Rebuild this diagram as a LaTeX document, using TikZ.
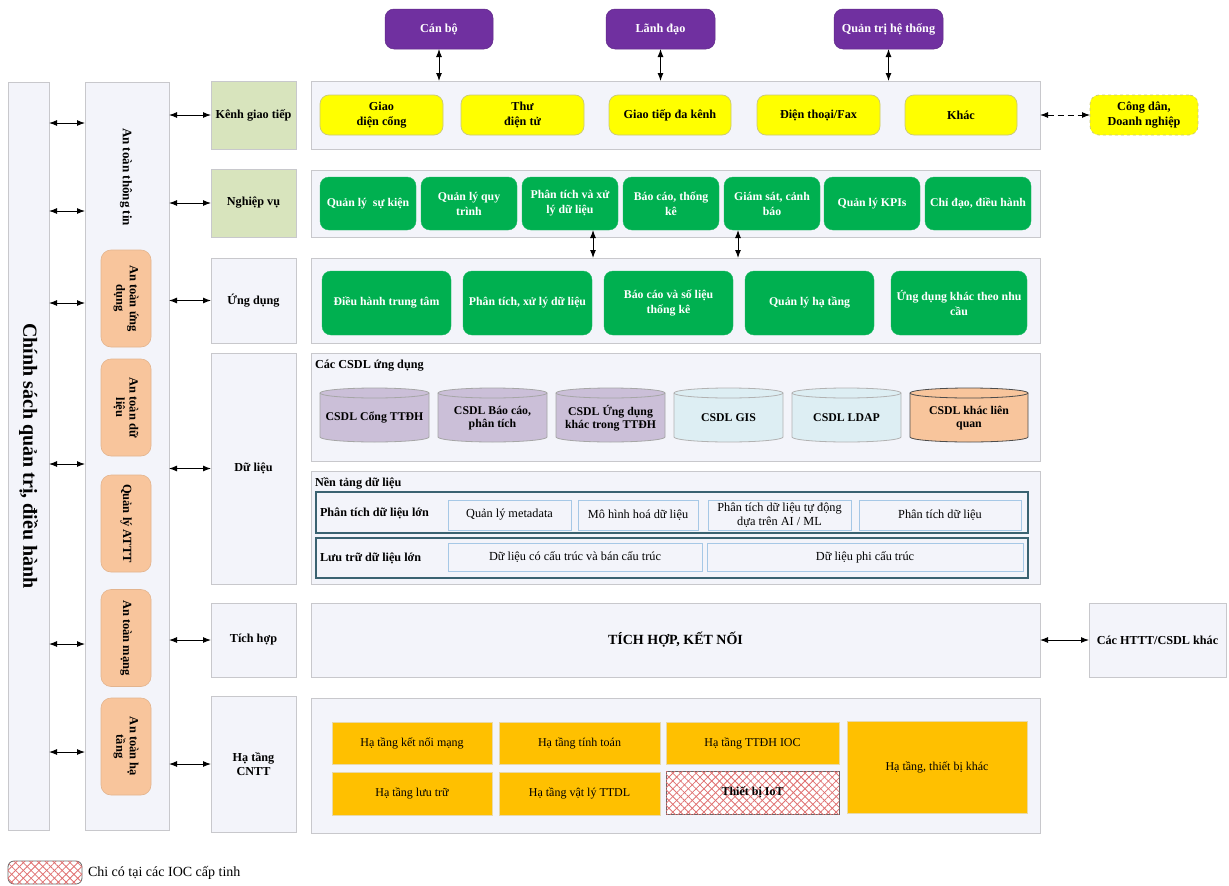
\documentclass[tikz,border=0pt]{standalone}
\usepackage{fontspec}
\setmainfont{Liberation Serif}
\usetikzlibrary{arrows.meta,patterns.meta}
\definecolor{panelc}{HTML}{F3F4FA}
\definecolor{bordc}{HTML}{C8C8CC}
\definecolor{greenl}{HTML}{D8E4BD}
\definecolor{yelc}{HTML}{FFFF00}
\definecolor{yelb}{HTML}{C9C77A}
\definecolor{purc}{HTML}{7030A0}
\definecolor{grnc}{HTML}{00B050}
\definecolor{orgc}{HTML}{F8C59C}
\definecolor{orgb}{HTML}{E3B48E}
\definecolor{lavc}{HTML}{CBBFD8}
\definecolor{bluec}{HTML}{DDEEF3}
\definecolor{infc}{HTML}{FFC000}
\definecolor{infb}{HTML}{E9D9A8}
\definecolor{tealc}{HTML}{3A6271}
\definecolor{subb}{HTML}{A6C8E6}
\definecolor{hatchc}{HTML}{E07070}
% box from corner (x1,y1) to (x2,y2), coordinates in pixels
\newcommand\blk[7]{\node[#2,minimum width={(#5-#3)*1pt},minimum height={(#6-#4)*1pt}] (#1) at ({(#3+#5)/2},{(#4+#6)/2}) {#7};}
% database cylinder between x1 and x2
\newcommand\dbcyl[6]{%
  \pgfmathsetmacro\cxm{(#3+#4)/2}\pgfmathsetmacro\crx{(#4-#3)/2}%
  \filldraw[fill=#2,draw=#5,line width=0.8pt] (#3,393) -- (#3,437) arc[start angle=180,end angle=0,x radius=\crx,y radius=5] -- (#4,393) arc[start angle=0,end angle=-180,x radius=\crx,y radius=5] -- cycle;
  \draw[draw=#5,line width=0.8pt] (#3,393) arc[start angle=180,end angle=0,x radius=\crx,y radius=5];
  \node[font=\bfseries\fontsize{11.8}{13.5}\selectfont,align=center] (#1) at (\cxm,418) {#6};}
\begin{document}
\begin{tikzpicture}[x=1pt,y=-1pt,
  every node/.style={inner sep=0pt,outer sep=0pt,align=center},
  panel/.style={draw=bordc,fill=panelc,line width=1pt,font=\bfseries\fontsize{12.2}{14.5}\selectfont},
  lblg/.style={panel,fill=greenl},
  yel/.style={draw=yelb,fill=yelc,line width=0.7pt,rounded corners=9pt,font=\bfseries\fontsize{12.2}{14.5}\selectfont},
  purp/.style={draw=purc!85!black,fill=purc,line width=0.5pt,rounded corners=9pt,text=white,font=\bfseries\fontsize{12.2}{14.5}\selectfont},
  grn/.style={draw=grnc!90!white,fill=grnc,rounded corners=9pt,text=white,font=\bfseries\fontsize{11.8}{15}\selectfont},
  org/.style={draw=orgb,fill=orgc,line width=0.6pt,rounded corners=10pt,font=\bfseries\fontsize{12.5}{13.5}\selectfont},
  infra/.style={draw=infb,fill=infc,line width=0.6pt,font=\fontsize{12}{14}\selectfont},
  bigbox/.style={draw=tealc,line width=1.3pt},
  subbox/.style={draw=subb,fill=panelc,line width=1pt,font=\fontsize{12.3}{13.5}\selectfont},
  hatch/.style={fill=white,postaction={pattern={Lines[angle=45,distance=5.5pt,line width=0.8pt]},pattern color=hatchc},
    postaction={pattern={Lines[angle=-45,distance=5.5pt,line width=0.8pt]},pattern color=hatchc}},
  dbl/.style={{Latex[length=8pt,width=6pt]}-{Latex[length=8pt,width=6pt]},line width=1pt},
  title/.style={anchor=west,font=\bfseries\fontsize{12.2}{14}\selectfont}]
\useasboundingbox (0,0) rectangle (1229,886);

% users
\blk{canbo}{purp}{385}{9}{493}{49}{Cán bộ}
\blk{lanhdao}{purp}{606}{9}{715}{49}{Lãnh đạo}
\blk{qtht}{purp}{834}{9}{943}{49}{Quản trị hệ thống}

% policy column and security column
\blk{policy}{panel}{8}{82}{49}{830}{}
\node[rotate=-90,font=\bfseries\fontsize{20}{23}\selectfont] (policyt) at (policy.center) {Chính sách quản trị, điều hành};
\blk{sec}{panel}{85}{82}{169}{830}{}
\node[rotate=-90,font=\bfseries\fontsize{13}{15}\selectfont] (sect) at (126,177) {An toàn thông tin};
\node[org,rotate=-90,minimum width=97pt,minimum height=50pt] (o1) at (126,298.5) {An toàn ứng\\dụng};
\node[org,rotate=-90,minimum width=97pt,minimum height=50pt] (o2) at (126,407.5) {An toàn dữ\\liệu};
\node[org,rotate=-90,minimum width=97pt,minimum height=50pt] (o3) at (126,523.5) {Quản lý ATTT};
\node[org,rotate=-90,minimum width=97pt,minimum height=50pt] (o4) at (126,638) {An toàn mạng};
\node[org,rotate=-90,minimum width=97pt,minimum height=50pt] (o5) at (126,746.5) {An toàn hạ\\tầng};

\foreach \yy [count=\i] in {123,211,303,464,644,752} {
  \coordinate (pa\i) at (0,\yy);
  \draw[dbl] (policy.east |- pa\i) -- (sec.west |- pa\i);
}

% layer labels
\blk{lkenh}{lblg}{211}{81}{296}{149}{Kênh giao tiếp}
\blk{lnv}{lblg}{211}{169}{296}{237}{Nghiệp vụ}
\blk{lud}{panel}{211}{258}{296}{343}{Ứng dụng}
\blk{ldl}{panel}{211}{353}{296}{584}{Dữ liệu}
\blk{lth}{panel}{211}{603}{296}{677}{Tích hợp}
\blk{lht}{panel}{211}{696}{296}{832}{Hạ tầng\\CNTT}
\foreach \n in {lkenh,lnv,lud,ldl,lth,lht}
  \draw[dbl] (sec.east |- \n.west) -- (\n.west);

% communication channels
\blk{kenh}{panel}{311}{81}{1040}{149}{}
\blk{g1}{yel}{320}{95}{443}{135}{Giao\\diện cổng}
\blk{g2}{yel}{461}{95}{584}{135}{Thư\\điện tử}
\blk{g3}{yel}{609}{95}{731}{135}{Giao tiếp đa kênh}
\blk{g4}{yel}{757}{95}{880}{135}{Điện thoại/Fax}
\blk{g5}{yel}{905}{95}{1017}{135}{Khác}
\blk{congdan}{yel,dashed}{1090}{95}{1198}{135}{Công dân,\\Doanh nghiệp}
\draw[dbl,dash pattern=on 6pt off 4pt] (kenh.east) -- (congdan.west);
\foreach \u in {canbo,lanhdao,qtht}
  \draw[dbl] (\u.south) -- (\u.south |- kenh.north);

% business functions
\blk{nv}{panel}{311}{170}{1040}{237}{}
\blk{n1}{grn}{320}{177}{416}{230}{Quản lý~ sự kiện}
\blk{n2}{grn}{421}{177}{517}{230}{Quản lý quy\\trình}
\blk{n3}{grn}{522}{177}{618}{230}{Phân tích và xử\\lý dữ liệu}
\blk{n4}{grn}{623}{177}{719}{230}{Báo cáo, thống\\kê}
\blk{n5}{grn}{724}{177}{820}{230}{Giám sát, cảnh\\báo}
\blk{n6}{grn}{824}{177}{920}{230}{Quản lý KPIs}
\blk{n7}{grn}{925}{177}{1031}{230}{Chỉ đạo, điều hành}

% applications
\blk{ud}{panel}{311}{258}{1040}{343}{}
\blk{a1}{grn}{322}{271}{451}{335}{Điều hành trung tâm}
\blk{a2}{grn}{463}{271}{592}{335}{Phân tích, xử lý dữ liệu}
\blk{a3}{grn}{604}{271}{733}{335}{Báo cáo và số liệu\\thống kê}
\blk{a4}{grn}{745}{271}{874}{335}{Quản lý hạ tầng}
\blk{a5}{grn}{891}{271}{1027}{335}{Ứng dụng khác theo nhu\\cầu}
\coordinate (xa) at (593,0);
\coordinate (xb) at (738,0);
\draw[dbl] (n3.south -| xa) -- (ud.north -| xa);
\draw[dbl] (n5.south -| xb) -- (ud.north -| xb);

% application databases
\blk{dp1}{panel}{311}{353}{1040}{461}{}
\node[title] (dp1t) at (315,366) {Các CSDL ứng dụng};
\dbcyl{c1}{lavc}{320}{429}{gray!70}{CSDL Cổng TTĐH}
\dbcyl{c2}{lavc}{438}{547}{gray!70}{CSDL Báo cáo,\\phân tích}
\dbcyl{c3}{lavc}{556}{665}{gray!70}{CSDL Ứng dụng\\khác trong TTĐH}
\dbcyl{c4}{bluec}{674}{783}{gray!60}{CSDL GIS}
\dbcyl{c5}{bluec}{792}{901}{gray!60}{CSDL LDAP}
\dbcyl{c6}{orgc}{910}{1028}{black!70}{CSDL khác liên\\quan}

% data platform
\blk{dp2}{panel}{311}{471}{1040}{584}{}
\node[title] (dp2t) at (315,483) {Nền tảng dữ liệu};
\blk{bd1}{bigbox}{316}{492}{1028}{533}{}
\blk{bd2}{bigbox}{316}{538}{1028}{578}{}
\node[title] (bd1t) at (320,513) {Phân tích dữ liệu lớn};
\node[title] (bd2t) at (320,558) {Lưu trữ dữ liệu lớn};
\blk{s1}{subbox}{448}{500}{571}{530}{Quản lý metadata}
\blk{s2}{subbox}{578}{500}{698}{530}{Mô hình hoá dữ liệu}
\blk{s3}{subbox}{708}{500}{851}{530}{Phân tích dữ liệu tự động\\dựa trên AI / ML}
\blk{s4}{subbox}{859}{500}{1021}{530}{Phân tích dữ liệu}
\blk{s5}{subbox}{448}{543}{702}{571}{Dữ liệu có cấu trúc và bán cấu trúc}
\blk{s6}{subbox}{707}{543}{1023}{571}{Dữ liệu phi cấu trúc}

% integration
\blk{tich}{panel,font=\bfseries\fontsize{14}{16}\selectfont}{311}{603}{1040}{677}{TÍCH HỢP, KẾT NỐI}
\blk{httt}{panel}{1089}{603}{1226}{677}{Các HTTT/CSDL khác}
\draw[dbl] (tich.east) -- (httt.west);

% IT infrastructure
\blk{ht}{panel}{311}{698}{1040}{833}{}
\blk{i1}{infra}{332}{722}{492}{764}{Hạ tầng kết nối mạng}
\blk{i2}{infra}{499}{722}{660}{764}{Hạ tầng tính toán}
\blk{i3}{infra}{666}{722}{839}{764}{Hạ tầng TTĐH IOC}
\blk{i4}{infra}{332}{772}{492}{815}{Hạ tầng lưu trữ}
\blk{i5}{infra}{499}{772}{660}{815}{Hạ tầng vật lý TTDL}
\blk{iot}{hatch,draw=black!60,line width=0.8pt,font=\bfseries\fontsize{12}{14}\selectfont}{666}{771}{839}{814}{Thiết bị IoT}
\blk{i6}{infra}{847}{721}{1027}{813}{Hạ tầng, thiết bị khác}

% legend
\blk{leg}{hatch,draw=black!60,line width=0.8pt,rounded corners=6pt}{8}{861}{82}{884}{}
\node[anchor=west,font=\fontsize{14}{16}\selectfont] (legt) at (88,873) {Chi có tại các IOC cấp tinh};
\end{tikzpicture}
\end{document}
